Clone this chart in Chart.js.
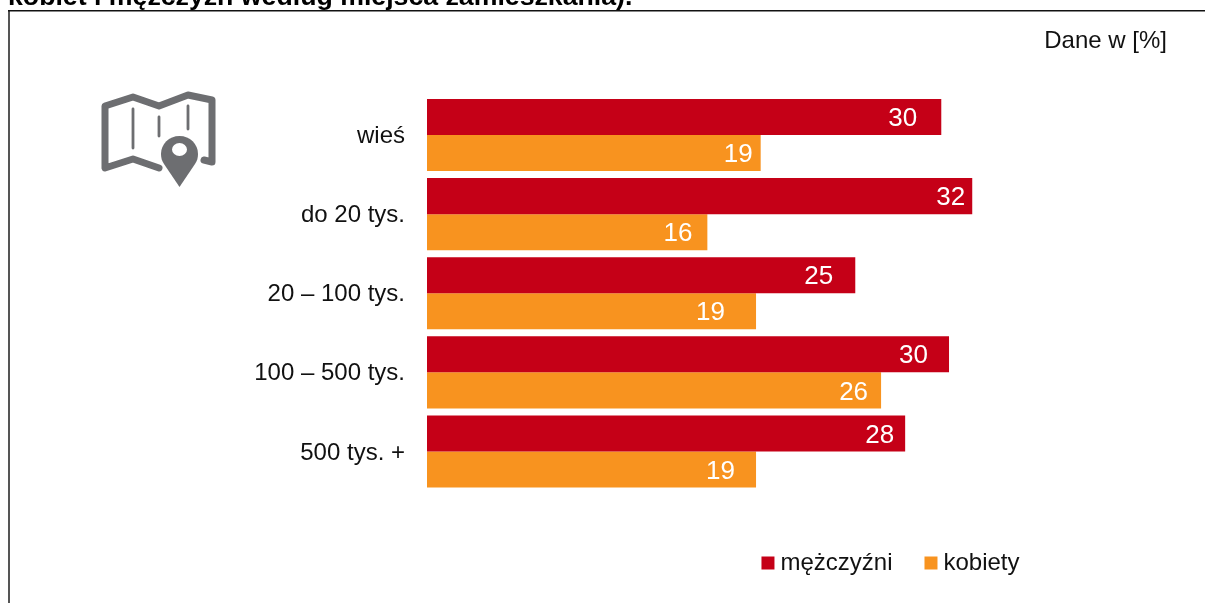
<!DOCTYPE html>
<html><head><meta charset="utf-8">
<style>html,body{margin:0;padding:0;background:#fff;overflow:hidden}#c{display:block}</style>
<script src="https://cdn.jsdelivr.net/npm/chart.js@4"></script>
</head><body><canvas id="c" width="1205" height="603"></canvas>
<script>
const categories = ["wieś","do 20 tys.","20 – 100 tys.","100 – 500 tys.","500 tys. +"];
const men = [29.9,31.7,24.9,30.35,27.8];
const women = [19.4,16.3,19.13,26.4,19.13];
const seriesNames = ["mężczyźni","kobiety"];
const menLabelGap = [24,7,22,21,11];
const womenLabelGap = [8,15,31,13,21];
const FONT = '"Liberation Sans", Arial, sans-serif';

const decor = {
  id:'decor',
  afterLayout(chart){
    const l = chart.legend, shift = 893.5 - (l.left + l.right)/2;
    l.left += shift; l.right += shift; l.top = 513; l.bottom = 603;
  },
  beforeDraw(chart){
    const c = chart.ctx; c.save();
    c.strokeStyle='#555'; c.lineWidth=2;
    c.beginPath(); c.moveTo(9,603); c.lineTo(9,10); c.stroke();
    c.strokeStyle='#111'; c.lineWidth=1.5;
    c.beginPath(); c.moveTo(8,10.75); c.lineTo(1205,10.75); c.stroke();
    c.fillStyle='#000'; c.font='bold 26.7px '+FONT; c.textBaseline='alphabetic'; c.textAlign='left';
    c.fillText('kobiet i mężczyzn według miejsca zamieszkania).',8,5);
    c.font='24px '+FONT; c.textAlign='right'; c.fillStyle='#111';
    c.fillText('Dane w [%]',1167,48);
    c.strokeStyle='#6d6e71'; c.lineWidth=7; c.lineJoin='round'; c.lineCap='round';
    c.stroke(new Path2D('M159 168 L133 159 L105 168 L105 106 L133 97 L159 106 L188 95 L212 100 L212 162 L204 160'));
    c.lineWidth=2.8;
    c.stroke(new Path2D('M133 109 V148 M159 117 V136 M188 106 V129'));
    c.fillStyle='#6d6e71';
    c.fill(new Path2D('M179.5 136 C169 136 161 144 161 154 C161 158 162 161 164 164 L179.5 187 L195 164 C197 161 198 158 198 154 C198 144 190 136 179.5 136 Z'));
    c.fillStyle='#fff'; c.beginPath(); c.ellipse(179.5,149.5,7.5,6.5,0,0,Math.PI*2); c.fill();
    c.restore();
  },
  afterDatasetsDraw(chart){
    const c = chart.ctx; c.save();
    c.font='26px '+FONT; c.fillStyle='#fff'; c.textAlign='right'; c.textBaseline='middle';
    [menLabelGap,womenLabelGap].forEach((gaps,d)=>{
      chart.getDatasetMeta(d).data.forEach((bar,i)=>{
        const v = chart.data.datasets[d].data[i];
        c.fillText(Math.round(v), bar.x-gaps[i], bar.y+2);
      });
    });
    c.restore();
  }
};

new Chart(document.getElementById('c'),{
  type:'bar',
  data:{labels:categories,datasets:[
    {label:seriesNames[0],data:men,backgroundColor:'#c50017'},
    {label:seriesNames[1],data:women,backgroundColor:'#f8931f'}
  ]},
  plugins:[decor],
  options:{
    indexAxis:'y',responsive:false,animation:false,
    devicePixelRatio:1,
    datasets:{bar:{categoryPercentage:0.9114,barPercentage:1,borderWidth:0}},
    layout:{padding:{top:95.5,right:90,left:0,bottom:40}},
    scales:{
      x:{min:0,max:40,display:false},
      y:{
        grid:{display:false},border:{display:false},
        afterFit(s){s.width=427},
        ticks:{color:'#111',font:{family:FONT,size:24},padding:14,labelOffset:1.5,autoSkip:false}
      }
    },
    plugins:{
      tooltip:{enabled:false},
      legend:{position:'bottom',labels:{usePointStyle:true,pointStyle:'rect',boxWidth:1,boxHeight:13,padding:38,color:'#111',font:{family:FONT,size:24}}}
    }
  }
});
</script>
</body></html>
